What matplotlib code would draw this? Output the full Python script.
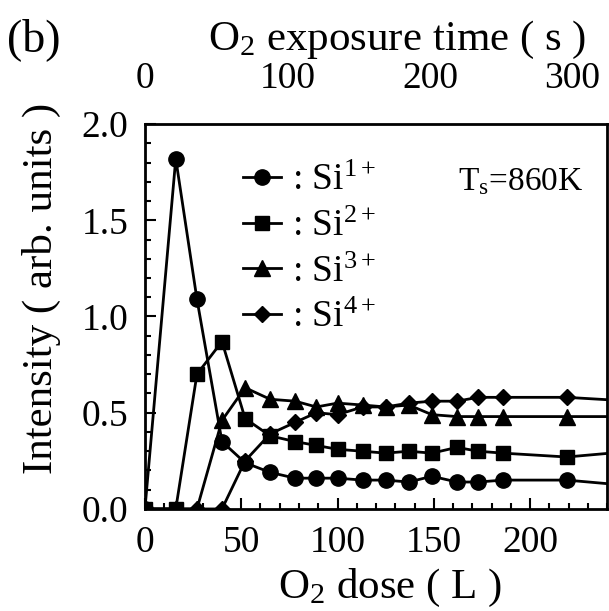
import matplotlib.pyplot as plt
import numpy as np
from matplotlib.ticker import MultipleLocator

plt.rcParams["font.family"] = "Liberation Serif"
plt.rcParams["mathtext.fontset"] = "custom"
plt.rcParams["mathtext.rm"] = "Liberation Serif"
plt.rcParams["mathtext.it"] = "Liberation Serif:italic"
plt.rcParams["font.size"] = 27

# O2 dose (L); last point lies past the plotted range
dose = [0, 16, 27, 40, 52, 65, 78, 89, 100, 113, 125, 137, 149, 162, 173, 186, 219, 253]
si1 = [0, 1.82, 1.09, 0.35, 0.24, 0.19, 0.16, 0.16, 0.16, 0.15, 0.15, 0.14, 0.17, 0.14, 0.14, 0.15, 0.15, 0.12]
si2 = [0, 0, 0.70, 0.87, 0.47, 0.38, 0.35, 0.33, 0.31, 0.30, 0.29, 0.30, 0.29, 0.32, 0.30, 0.29, 0.27, 0.30]
si3 = [0, 0, 0, 0.46, 0.63, 0.57, 0.56, 0.53, 0.55, 0.54, 0.53, 0.54, 0.49, 0.48, 0.48, 0.48, 0.48, 0.48]
si4 = [0, 0, 0, 0, 0.25, 0.39, 0.45, 0.50, 0.49, 0.53, 0.53, 0.55, 0.56, 0.56, 0.58, 0.58, 0.58, 0.56]
labels = [": Si$^{1+}$", ": Si$^{2+}$", ": Si$^{3+}$", ": Si$^{4+}$"]
rate = 0.74  # L per second of exposure

fig = plt.figure(figsize=(6.09, 6.11), dpi=100)
ax = fig.add_axes([0.238, 0.167, 0.759, 0.630])

ax.plot(dose, si1, "k-o", lw=2, ms=11, label=labels[0])
ax.plot(dose, si2, "k-s", lw=2, ms=10, label=labels[1])
ax.plot(dose, si3, "k-^", lw=2, ms=11, label=labels[2])
ax.plot(dose, si4, "k-D", lw=2, ms=8, label=labels[3])

ax.set_xlim(0, 240)
ax.set_ylim(0, 2.0)
ax.xaxis.set_major_locator(MultipleLocator(50))
ax.xaxis.set_minor_locator(MultipleLocator(10))
ax.yaxis.set_major_locator(MultipleLocator(0.5))
ax.yaxis.set_minor_locator(MultipleLocator(0.1))
ax.yaxis.set_major_formatter(plt.FormatStrFormatter("%.1f"))
ax.tick_params(which="both", direction="in", width=1.5, top=False, right=False)
ax.tick_params(which="major", length=8, pad=12)
ax.tick_params(which="minor", length=4)
for s in ax.spines.values():
    s.set_linewidth(2)

ax.set_xlabel("O$_2$ dose ( L )", fontsize=31)
ax.set_ylabel("Intensity ( arb. units )", fontsize=31)
ax.xaxis.set_label_coords(0.53, -0.15)
ax.yaxis.set_label_coords(-0.182, 0.574)

top = ax.secondary_xaxis("top", functions=(lambda d: d / rate, lambda t: t * rate))
top.set_xticks([0, 100, 200, 300])
top.tick_params(length=0, pad=20)
fig.text(0.652, 0.935, "O$_2$ exposure time ( s )", ha="center", va="center", fontsize=31)

ax.legend(loc="upper left", bbox_to_anchor=(0.14, 0.985), frameon=False,
          handlelength=1.0, handletextpad=0.3, labelspacing=0.3, fontsize=27)
ax.text(0.948, 0.85, "T$_{\\rm s}$=860K", transform=ax.transAxes,
        ha="right", va="center", fontsize=24)
fig.text(0.012, 0.935, "(b)", ha="left", va="center", fontsize=33)

plt.savefig("out.png")
